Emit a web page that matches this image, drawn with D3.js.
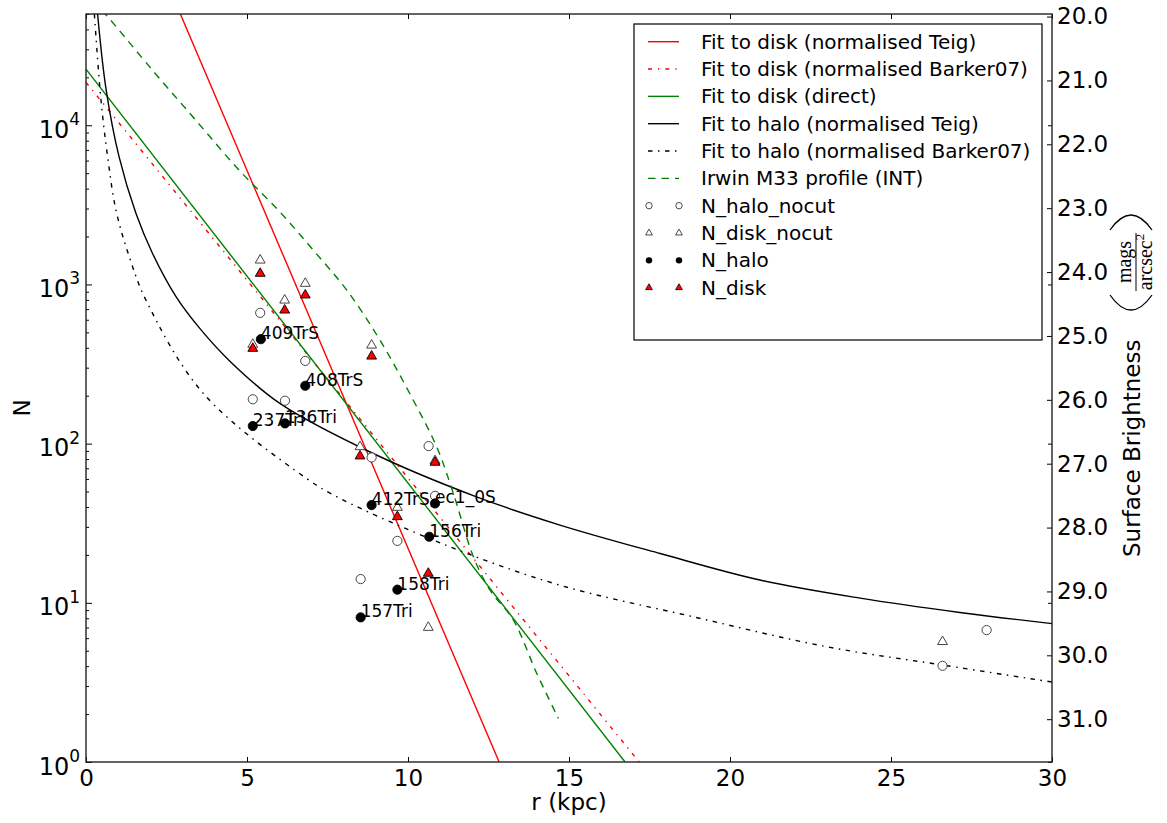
<!DOCTYPE html>
<html>
<head>
<meta charset="utf-8">
<script src="https://cdn.jsdelivr.net/npm/d3@7"></script>
<style>
  body { margin: 0; background: #fff; }
  text { font-family: "DejaVu Sans", sans-serif; fill: #000; }
</style>
</head>
<body>
<svg id="svg"></svg>
<script>

// ************************************************************************************************** //
// Data

// fields: filled halo points with their names
var halo_r = [5.18, 5.43, 6.18, 6.81, 8.53, 8.87, 9.67, 10.66, 10.84];
var halo_n = [129, 453, 134, 231, 8.1, 41.1, 12.1, 26.0, 42.1];
var halo_names = ['237Tri', '409TrS', '136Tri', '408TrS', '157Tri', '412TrS', '158Tri', '156Tri', 'ec1_0S'];

var halo_nocut_r = [5.18, 5.41, 6.18, 6.81, 8.53, 8.87, 9.67, 10.64, 10.84, 26.6, 27.97];
var halo_nocut_n = [190, 663, 186, 331, 14.1, 81.9, 24.5, 96.5, 47, 4.02, 6.74];

var disk_nocut_r = [5.18, 5.41, 6.17, 6.81, 8.51, 8.87, 9.67, 10.63, 10.84, 26.6];
var disk_nocut_n = [420, 1420, 796, 1014, 95.5, 415, 39.7, 7.0, 78, 5.7];

var disk_r = [5.18, 5.41, 6.17, 6.81, 8.51, 8.87, 9.67, 10.63, 10.84];
var disk_n = [396, 1172, 689, 857, 83.5, 354, 34.7, 15.3, 76.2];

// fits and profile
var disk_teig_r = [2.93, 12.83];
var disk_teig_n = [50000, 1];

var disk_barker_r = [0, 17.18];
var disk_barker_n = [18600, 1];

var disk_direct_r = [0, 16.74];
var disk_direct_n = [22500, 1];

var halo_teig_r = [0.36, 0.62, 1.03, 1.55, 2.07, 2.8, 3.54, 4.5, 6.02, 8.92, 12.13, 14.72, 17.83, 20.93, 24.04, 27.14, 30];
var halo_teig_n = [50000, 17000, 6300, 2800, 1560, 836, 528, 325, 179, 86.7, 46.3, 30.8, 20.4, 13.9, 10.7, 8.7, 7.4];

var halo_barker_r = [0.26, 0.466, 0.673, 0.932, 1.346, 1.863, 3.64, 6.85, 7.89, 11.3, 14.72, 18.86, 23.0, 26.62, 30];
var halo_barker_n = [50000, 14350, 6320, 2920, 1490, 796, 207, 60.4, 45.3, 22.5, 12.9, 8.17, 5.30, 4.06, 3.18];

var irwin_r = [0.5, 0.70, 2.07, 3.42, 4.76, 6.02, 7.06, 8.10, 9.13, 10.16, 10.89, 11.41, 12.03, 12.55, 13.27, 14.0, 14.67];
var irwin_n = [52500, 47400, 22100, 10700, 5210, 2860, 1640, 920, 447, 188, 95.5, 48.6, 19.5, 12.0, 7.8, 3.6, 1.88];

// axes
var x_ticks = [0, 5, 10, 15, 20, 25, 30];
var y_major = [1, 10, 100, 1000, 10000];
var y_exponents = ['0', '1', '2', '3', '4'];
var sb_ticks = [20, 21, 22, 23, 24, 25, 26, 27, 28, 29, 30, 31];

var legend_labels = [
  'Fit to disk (normalised Teig)',
  'Fit to disk (normalised Barker07)',
  'Fit to disk (direct)',
  'Fit to halo (normalised Teig)',
  'Fit to halo (normalised Barker07)',
  'Irwin M33 profile (INT)',
  'N_halo_nocut',
  'N_disk_nocut',
  'N_halo',
  'N_disk'
];

// ************************************************************************************************** //
// Setup

var chart = {};
chart.width = 1167;
chart.height = 823;
chart.left = 86; chart.right = 1052; chart.top = 14; chart.bottom = 762;

var zip = function(a, b){ return a.map(function(v, i){ return [v, b[i]]; }); };

chart.setup = function(){

  // ****************************************
  // Canvas and scales

  this.svg = d3.select('#svg').attr('width', this.width).attr('height', this.height);
  this.svg.append('rect').attr('width', this.width).attr('height', this.height).attr('fill', '#fff');

  this.x = d3.scaleLinear().domain([0, 30]).range([this.left, this.right]);
  this.y = d3.scaleLog().domain([1, 5e4]).range([this.bottom, this.top]);
  this.y_sb = d3.scaleLinear().domain([19.96, 31.67]).range([this.top, this.bottom]);

  this.svg.append('clipPath').attr('id', 'plot-clip').append('rect')
    .attr('x', this.left).attr('y', this.top)
    .attr('width', this.right - this.left).attr('height', this.bottom - this.top);

  // ****************************************
  // Lines

  var x = this.x, y = this.y;
  var lines_group = this.svg.append('g').attr('clip-path', 'url(#plot-clip)');
  var straight = d3.line().x(function(d){ return x(d[0]); }).y(function(d){ return y(d[1]); });
  var smooth = d3.line().x(function(d){ return x(d[0]); }).y(function(d){ return y(d[1]); }).curve(d3.curveCatmullRom.alpha(0.5));

  this.series_lines = [
    { data: zip(disk_teig_r, disk_teig_n), gen: straight, color: '#ff0000', dash: null },
    { data: zip(disk_barker_r, disk_barker_n), gen: straight, color: '#ff0000', dash: '4,6,1.3,6' },
    { data: zip(disk_direct_r, disk_direct_n), gen: straight, color: '#008000', dash: null },
    { data: zip(halo_teig_r, halo_teig_n), gen: smooth, color: '#000000', dash: null },
    { data: zip(halo_barker_r, halo_barker_n), gen: smooth, color: '#000000', dash: '4.5,5.5,1.5,5.5' },
    { data: zip(irwin_r, irwin_n), gen: smooth, color: '#008000', dash: '7.5,6' }
  ];

  this.series_lines.forEach(function(s){
    lines_group.append('path').attr('d', s.gen(s.data))
      .attr('fill', 'none').attr('stroke', s.color).attr('stroke-width', 1.4)
      .attr('stroke-dasharray', s.dash);
  });

  // ****************************************
  // Markers

  var marks = this.svg.append('g');
  var tri = d3.symbol().type(d3.symbolTriangle).size(42);

  marks.selectAll('.halo-nocut').data(zip(halo_nocut_r, halo_nocut_n)).join('circle')
    .attr('cx', function(d){ return x(d[0]); }).attr('cy', function(d){ return y(d[1]); })
    .attr('r', 4.6).attr('fill', '#fff').attr('stroke', '#333').attr('stroke-width', 0.9);

  marks.selectAll('.disk-nocut').data(zip(disk_nocut_r, disk_nocut_n)).join('path')
    .attr('d', tri).attr('transform', function(d){ return 'translate(' + x(d[0]) + ',' + y(d[1]) + ')'; })
    .attr('fill', '#fff').attr('stroke', '#3a2a2a').attr('stroke-width', 0.9);

  marks.selectAll('.halo').data(zip(halo_r, halo_n)).join('circle')
    .attr('cx', function(d){ return x(d[0]); }).attr('cy', function(d){ return y(d[1]); })
    .attr('r', 4.6).attr('fill', '#000').attr('stroke', '#000').attr('stroke-width', 0.9);

  marks.selectAll('.disk').data(zip(disk_r, disk_n)).join('path')
    .attr('d', tri).attr('transform', function(d){ return 'translate(' + x(d[0]) + ',' + y(d[1]) + ')'; })
    .attr('fill', '#ff0000').attr('stroke', '#000').attr('stroke-width', 0.9);

  // names of the fields (they overlap in the original too)
  marks.selectAll('.name').data(halo_names).join('text')
    .attr('x', function(d, i){ return x(halo_r[i]); })
    .attr('y', function(d, i){ return y(halo_n[i]); })
    .style('font-size', '17px').text(function(d){ return d; });

  // ****************************************
  // Axes

  var axes = this.svg.append('g');

  var bottom = axes.append('g').attr('transform', 'translate(0,' + this.bottom + ')')
    .call(d3.axisBottom(x).tickValues(x_ticks).tickSizeInner(-5).tickSizeOuter(0).tickPadding(8).tickFormat(d3.format('d')));
  bottom.attr('font-size', null).selectAll('text').style('font-size', '23px');

  axes.append('g').attr('transform', 'translate(0,' + this.top + ')')
    .call(d3.axisTop(x).tickValues(x_ticks).tickSizeInner(-5).tickSizeOuter(0).tickFormat(''));

  var minor = [];
  y_major.forEach(function(m){ d3.range(2, 10).forEach(function(k){ if(m*k <= 5e4){ minor.push(m*k); } }); });

  axes.append('g').attr('transform', 'translate(' + this.left + ',0)')
    .call(d3.axisLeft(y).tickValues(y_major).tickSizeInner(-6).tickSizeOuter(0).tickFormat(''));
  axes.append('g').attr('transform', 'translate(' + this.left + ',0)')
    .call(d3.axisLeft(y).tickValues(minor).tickSizeInner(-3).tickSizeOuter(0).tickFormat(''));
  axes.append('g').attr('transform', 'translate(' + this.right + ',0)')
    .call(d3.axisRight(y).tickValues(y_major).tickSizeInner(-4).tickSizeOuter(0).tickFormat(''));

  var left_labels = axes.selectAll('.ylab').data(y_major).join('text')
    .attr('x', this.left - 6).attr('y', function(d){ return y(d) + 12.5; })
    .attr('text-anchor', 'end');
  left_labels.append('tspan').style('font-size', '24px').text('10');
  left_labels.append('tspan').attr('dy', -12.5).style('font-size', '17px').text(function(d, i){ return y_exponents[i]; });

  var right = axes.append('g').attr('transform', 'translate(' + this.right + ',0)')
    .call(d3.axisRight(this.y_sb).tickValues(sb_ticks).tickSizeInner(-5).tickSizeOuter(0).tickPadding(5).tickFormat(d3.format('.1f')));
  right.attr('font-size', null).selectAll('text').style('font-size', '23px');

  axes.selectAll('.domain').remove();
  axes.selectAll('.tick line').attr('stroke', '#000').attr('stroke-width', 1);

  this.svg.append('rect')
    .attr('x', this.left).attr('y', this.top)
    .attr('width', this.right - this.left).attr('height', this.bottom - this.top)
    .attr('fill', 'none').attr('stroke', '#222').attr('stroke-width', 1.4);

  // ****************************************
  // Axis titles

  this.svg.append('text').attr('x', x(15)).attr('y', 810).attr('text-anchor', 'middle')
    .style('font-size', '23px').text('r (kpc)');

  this.svg.append('text').attr('transform', 'translate(30,408) rotate(-90)').attr('text-anchor', 'middle')
    .style('font-size', '23px').text('N');

  var sb = this.svg.append('g').attr('transform', 'translate(1140,557) rotate(-90)');
  sb.append('text').style('font-size', '23px').text('Surface Brightness');
  sb.append('path').attr('d', 'M262,-30 Q232,-9 262,12').attr('fill', 'none').attr('stroke', '#000').attr('stroke-width', 1.3);
  sb.append('path').attr('d', 'M327,-30 Q357,-9 327,12').attr('fill', 'none').attr('stroke', '#000').attr('stroke-width', 1.3);
  sb.append('line').attr('x1', 266).attr('x2', 324).attr('y1', -4).attr('y2', -4).attr('stroke', '#000').attr('stroke-width', 1);
  sb.append('text').attr('x', 295).attr('y', -9).attr('text-anchor', 'middle')
    .style('font-family', '"Liberation Serif", serif').style('font-size', '20px').text('mags');
  var den = sb.append('text').attr('x', 295).attr('y', 12).attr('text-anchor', 'middle')
    .style('font-family', '"Liberation Serif", serif').style('font-size', '20px');
  den.append('tspan').text('arcsec');
  den.append('tspan').attr('dy', -8).style('font-size', '13px').text('2');

  // ****************************************
  // Legend

  var lg = this.svg.append('g');
  lg.append('rect').attr('x', 634).attr('y', 24).attr('width', 408).attr('height', 316)
    .attr('fill', '#fff').attr('stroke', '#000').attr('stroke-width', 1.2);

  var row_y = function(i){ return 41.7 + i*27.33; };

  this.series_lines.forEach(function(s, i){
    lg.append('line').attr('x1', 648).attr('x2', 679).attr('y1', row_y(i)).attr('y2', row_y(i))
      .attr('stroke', s.color).attr('stroke-width', 1.4).attr('stroke-dasharray', s.dash);
  });

  var small_tri = d3.symbol().type(d3.symbolTriangle).size(20);
  [649, 679].forEach(function(mx){
    lg.append('circle').attr('cx', mx).attr('cy', row_y(6)).attr('r', 3.2).attr('fill', '#fff').attr('stroke', '#333').attr('stroke-width', 0.9);
    lg.append('path').attr('d', small_tri).attr('transform', 'translate(' + mx + ',' + row_y(7) + ')').attr('fill', '#fff').attr('stroke', '#333').attr('stroke-width', 0.9);
    lg.append('circle').attr('cx', mx).attr('cy', row_y(8)).attr('r', 3.2).attr('fill', '#000');
    lg.append('path').attr('d', small_tri).attr('transform', 'translate(' + mx + ',' + row_y(9) + ')').attr('fill', '#ff0000').attr('stroke', '#000').attr('stroke-width', 0.8);
  });

  lg.selectAll('.lab').data(legend_labels).join('text')
    .attr('x', 701).attr('y', function(d, i){ return row_y(i) + 7; })
    .style('font-size', '20px').text(function(d){ return d; });
}

chart.setup();

</script>
</body>
</html>
